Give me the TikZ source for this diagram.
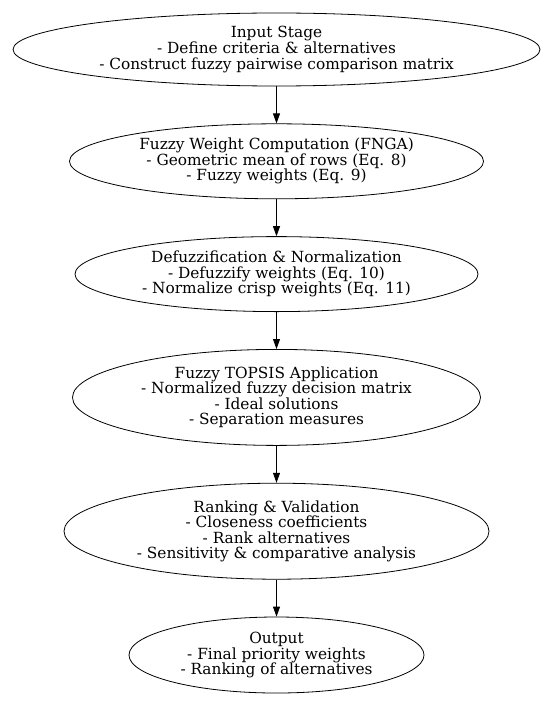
\documentclass[tikz,border=0pt]{standalone}
\usepackage{fontspec}
\setmainfont{DejaVu Serif}
\usetikzlibrary{shapes.geometric,positioning,arrows.meta}

\begin{document}
\begin{tikzpicture}[x=1bp, y=1bp, line width=0.8bp,
    stage/.style={draw, ellipse, inner sep=0pt, align=center, font=\fontsize{15.4}{15.6}\selectfont},
    flow/.style={-{Triangle[length=10bp, width=7bp]}},
    node distance=37bp]
    \useasboundingbox (0,0) rectangle (550,-701);
    \node[stage, minimum width=527bp, minimum height=73bp] (input) at (276.5,-49.5)
        {Input Stage\\- Define criteria \& alternatives\\- Construct fuzzy pairwise comparison matrix};
    \node[stage, minimum width=414bp, minimum height=75bp, below=of input] (fnga)
        {Fuzzy Weight Computation (FNGA)\\- Geometric mean of rows (Eq. 8)\\- Fuzzy weights (Eq. 9)};
    \node[stage, minimum width=403bp, minimum height=75bp, below=of fnga] (defuzz)
        {Defuzzification \& Normalization\\- Defuzzify weights (Eq. 10)\\- Normalize crisp weights (Eq. 11)};
    \node[stage, minimum width=408bp, minimum height=96bp, below=of defuzz] (topsis)
        {Fuzzy TOPSIS Application\\- Normalized fuzzy decision matrix\\- Ideal solutions\\- Separation measures};
    \node[stage, minimum width=425bp, minimum height=96bp, below=of topsis] (rank)
        {Ranking \& Validation\\- Closeness coefficients\\- Rank alternatives\\- Sensitivity \& comparative analysis};
    \node[stage, minimum width=295bp, minimum height=76bp, below=of rank] (output)
        {Output\\- Final priority weights\\- Ranking of alternatives};
    \draw[flow] (input) -- (fnga);
    \draw[flow] (fnga) -- (defuzz);
    \draw[flow] (defuzz) -- (topsis);
    \draw[flow] (topsis) -- (rank);
    \draw[flow] (rank) -- (output);
\end{tikzpicture}
\end{document}
